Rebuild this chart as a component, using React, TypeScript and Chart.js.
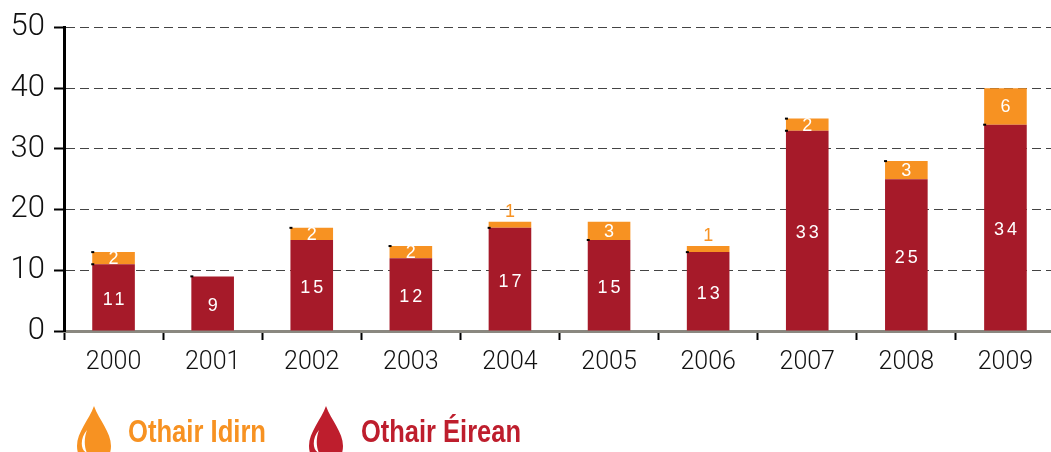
import React, { useEffect, useRef } from "react";
import { Chart, registerables } from "chart.js";

Chart.register(...registerables);

const years = ["2000", "2001", "2002", "2003", "2004", "2005", "2006", "2007", "2008", "2009"];
const othairEirean = [11, 9, 15, 12, 17, 15, 13, 33, 25, 34];
const othairIdirn = [2, 0, 2, 2, 1, 3, 1, 2, 3, 6];
const cornerDots = [[13, 11], [9], [17], [14], [17], [15], [13], [35, 33], [28], [34]];
const yTicks = [0, 10, 20, 30, 40, 50];
const seriesNames = ["Othair Éirean", "Othair Idirn"];
const RED = "#a61a29";
const ORANGE = "#f79222";
const LEGEND_RED = "#be1e2d";

const FONT = '"Liberation Sans", Arial, sans-serif';
const LIGHT = 'Roboto, "Liberation Sans", sans-serif';

function drop(ctx: CanvasRenderingContext2D, cx: number, color: string) {
  const top = 406;
  ctx.save();
  ctx.fillStyle = color;
  ctx.beginPath();
  ctx.moveTo(cx, top);
  ctx.bezierCurveTo(cx + 5, top + 14, cx + 17, top + 26, cx + 17, top + 40);
  ctx.bezierCurveTo(cx + 17, top + 52, cx + 9, top + 60, cx, top + 60);
  ctx.bezierCurveTo(cx - 9, top + 60, cx - 17, top + 52, cx - 17, top + 40);
  ctx.bezierCurveTo(cx - 17, top + 26, cx - 5, top + 14, cx, top);
  ctx.closePath();
  ctx.fill();
  ctx.fillStyle = "#fff";
  ctx.beginPath();
  ctx.moveTo(cx - 7, top + 24);
  ctx.bezierCurveTo(cx - 14, top + 32, cx - 14, top + 44, cx - 7, top + 47);
  ctx.bezierCurveTo(cx - 10, top + 40, cx - 10, top + 32, cx - 7, top + 24);
  ctx.closePath();
  ctx.fill();
  ctx.restore();
}

function legendText(ctx: CanvasRenderingContext2D, text: string, x: number, w: number, color: string) {
  ctx.save();
  ctx.font = 'bold 31px "Liberation Sans Narrow", "Liberation Sans", sans-serif';
  ctx.textAlign = "left";
  ctx.textBaseline = "alphabetic";
  ctx.fillStyle = color;
  const m = ctx.measureText(text).width;
  ctx.translate(x, 442);
  ctx.scale(w / m, 1);
  ctx.fillText(text, 0, 0);
  ctx.restore();
}

const annotate = {
  id: "annotate",
  afterDatasetsDraw(chart: any) {
    const ctx: CanvasRenderingContext2D = chart.ctx;
    const y = chart.scales.y;
    const low = chart.getDatasetMeta(0).data;
    const high = chart.getDatasetMeta(1).data;
    ctx.save();
    ctx.textAlign = "center";
    ctx.textBaseline = "middle";
    ctx.font = `18px ${FONT}`;
    years.forEach((_, i) => {
      const a = othairEirean[i];
      const b = othairIdirn[i];
      const x = low[i].x;
      ctx.fillStyle = "#fff";
      (ctx as any).letterSpacing = "3px";
      ctx.fillText(String(a), x + 1.5, y.getPixelForValue(a / 2) + 2.5);
      (ctx as any).letterSpacing = "0px";
      if (b === 1) {
        ctx.fillStyle = ORANGE;
        ctx.fillText(String(b), x, y.getPixelForValue(a + b) - 10);
      } else if (b > 0) {
        ctx.fillText(String(b), x, y.getPixelForValue(a + b / 2) + 1);
      }
      const left = x - high[i].width / 2;
      ctx.fillStyle = "#000";
      cornerDots[i].forEach((v) => ctx.fillRect(left - 1, y.getPixelForValue(v) - 1, 3, 2));
    });
    ctx.restore();
    drop(ctx, 94, ORANGE);
    legendText(ctx, seriesNames[1], 128, 138, ORANGE);
    drop(ctx, 326, LEGEND_RED);
    legendText(ctx, seriesNames[0], 361, 160, LEGEND_RED);
  },
};

export default function App() {
  const ref = useRef<HTMLCanvasElement>(null);
  useEffect(() => {
    const chart = new Chart(ref.current!, {
      type: "bar",
      data: {
        labels: years,
        datasets: [
          { label: seriesNames[0], data: othairEirean, backgroundColor: RED, stack: "s" },
          { label: seriesNames[1], data: othairIdirn, backgroundColor: ORANGE, stack: "s" },
        ],
      },
      options: {
        responsive: false,
        animation: false,
        layout: { padding: { top: 27, left: 0, right: 0, bottom: 0 } },
        datasets: { bar: { barPercentage: 1, categoryPercentage: 0.43 } },
        plugins: { legend: { display: false }, tooltip: { enabled: false } },
        scales: {
          x: {
            stacked: true,
            offset: true,
            afterFit(s: any) { s.height = 121; },
            grid: { drawOnChartArea: false, drawTicks: true, tickLength: 9, tickColor: "#000", tickWidth: 2, offset: true },
            border: { color: "#8a8880", width: 3 },
            ticks: { color: "#111", font: { family: LIGHT, size: 25, weight: 300 }, padding: 8, maxRotation: 0, autoSkip: false },
          },
          y: {
            stacked: true,
            min: 0,
            max: 50,
            afterFit(s: any) { s.width = 64; },
            afterBuildTicks(s: any) { s.ticks = yTicks.map((value) => ({ value })); },
            grid: { color: "#444", lineWidth: 1, tickColor: "#000", tickWidth: 2, tickLength: 10, tickBorderDash: [] },
            border: { color: "#000", width: 3, dash: [9, 5] },
            ticks: { color: "#111", font: { family: LIGHT, size: 31, weight: 300 }, padding: 9 },
          },
        },
      } as any,
      plugins: [annotate],
    });
    return () => chart.destroy();
  }, []);
  return (
    <div style={{ position: "absolute", left: 0, top: 0, width: 1051, height: 452, background: "#fff", overflow: "hidden" }}>
      <canvas ref={ref} width={1055} height={452} style={{ display: "block" }} />
    </div>
  );
}
